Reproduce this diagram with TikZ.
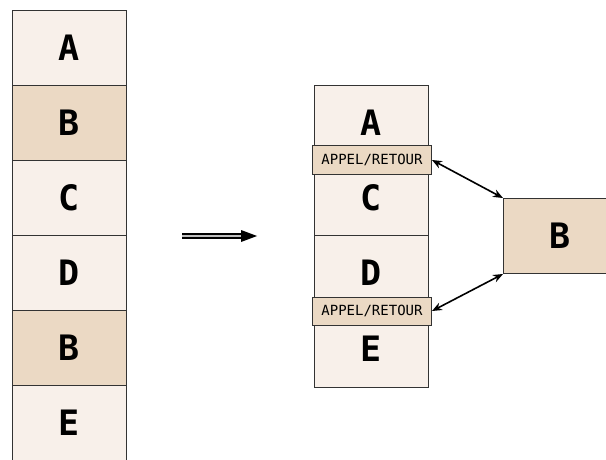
\documentclass[tikz,border=0pt]{standalone}
\usepackage{fontspec}
\setmonofont{DejaVu Sans Mono}
\usetikzlibrary{calc,arrows.meta,positioning}
\definecolor{pale}{HTML}{F8F0EA}
\definecolor{tan}{HTML}{EBD9C4}
\tikzset{
  cell/.style={draw=black!80,line width=1pt,fill=pale,anchor=north west,
    minimum width=114pt,minimum height=75pt,inner sep=0pt,
    font=\ttfamily\bfseries\fontsize{35}{35}\selectfont},
  called/.style={cell,fill=tan},
  callbox/.style={draw=black!80,line width=1pt,fill=tan,anchor=west,
    minimum width=119pt,minimum height=28pt,inner sep=0pt,
    font=\ttfamily\fontsize{14}{14}\selectfont},
  link/.style={{Stealth[length=10pt,width=8pt]}-{Stealth[length=10pt,width=8pt]},line width=1.6pt}
}
\begin{document}
\begin{tikzpicture}[x=1pt,y=-1pt]
\useasboundingbox (0,0) rectangle (606,460);
\clip (0,0) rectangle (606,460);

% program before
\node[cell]   (la) at (12,10)  {A};
\node[called] (lb) at (12,85)  {B};
\node[cell]   (lc) at (12,160) {C};
\node[cell]   (ld) at (12,235) {D};
\node[called] (le) at (12,310) {B};
\node[cell]   (lf) at (12,385) {E};

% rewriting arrow
\coordinate (from) at (182,236);
\coordinate (to) at (257,236);
\draw[line width=5.5pt] (from) -- ($(to)+(-14,0)$);
\draw[line width=1.5pt,black!25] (from) -- ($(to)+(-14,0)$);
\fill (to) -- ++(-16,-6) -- ++(0,12) -- cycle;

% program after
\node[cell] (ra) at (314,85)  {A};
\node[cell] (rc) at (314,160) {C};
\node[cell] (rd) at (314,235) {D};
\node[cell,minimum height=77pt] (re) at (314,310) {E};
\node[callbox] (call1) at (312,160) {APPEL/RETOUR};
\node[callbox] (call2) at (312,311) {APPEL/RETOUR};

% subroutine
\node[called] (sub) at (503,198) {B};

\draw[link] (call1.east) -- (sub.north west);
\draw[link] (call2.east) -- (sub.south west);
\end{tikzpicture}
\end{document}
